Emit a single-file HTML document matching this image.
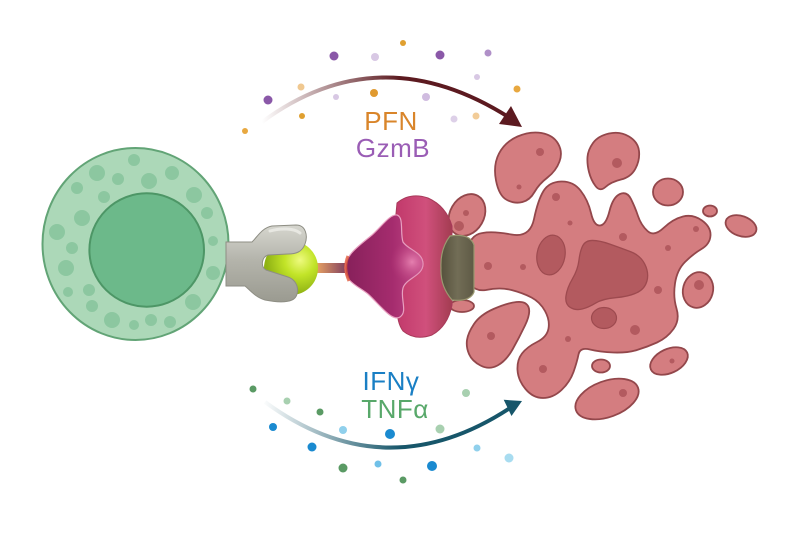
<!DOCTYPE html>
<html><head><meta charset="utf-8"><style>
html,body{margin:0;padding:0;background:#fff;}
svg{display:block;}
text{font-family:"Liberation Sans",sans-serif;}
</style></head><body>
<svg width="800" height="533" viewBox="0 0 800 533" xmlns="http://www.w3.org/2000/svg">
<defs>
<linearGradient id="ga1" x1="262" y1="0" x2="400" y2="0" gradientUnits="userSpaceOnUse">
<stop offset="0" stop-color="#5c1a20" stop-opacity="0"/><stop offset="1" stop-color="#5c1a20"/></linearGradient>
<linearGradient id="ga2" x1="262" y1="0" x2="400" y2="0" gradientUnits="userSpaceOnUse">
<stop offset="0" stop-color="#17566a" stop-opacity="0"/><stop offset="1" stop-color="#17566a"/></linearGradient>
<linearGradient id="grey" x1="0" y1="225" x2="0" y2="303" gradientUnits="userSpaceOnUse">
<stop offset="0" stop-color="#d6d6cf"/><stop offset="0.45" stop-color="#b4b4ab"/><stop offset="1" stop-color="#9a9a90"/></linearGradient>
<radialGradient id="ball" cx="300" cy="260" r="34" gradientUnits="userSpaceOnUse">
<stop offset="0" stop-color="#eefa80"/><stop offset="0.45" stop-color="#c2e428"/><stop offset="1" stop-color="#8fb214"/></radialGradient>
<linearGradient id="stick" x1="316" y1="0" x2="348" y2="0" gradientUnits="userSpaceOnUse">
<stop offset="0" stop-color="#e8a262"/><stop offset="1" stop-color="#7a3a60"/></linearGradient>
<linearGradient id="mag" x1="345" y1="0" x2="424" y2="0" gradientUnits="userSpaceOnUse">
<stop offset="0" stop-color="#86205a"/><stop offset="0.6" stop-color="#a52c6e"/><stop offset="1" stop-color="#c44c88"/></linearGradient>
<radialGradient id="maghl" cx="412" cy="262" r="22" gradientUnits="userSpaceOnUse">
<stop offset="0" stop-color="#f090bc" stop-opacity="0.8"/><stop offset="1" stop-color="#c04080" stop-opacity="0"/></radialGradient>
<linearGradient id="cup" x1="397" y1="0" x2="455" y2="0" gradientUnits="userSpaceOnUse">
<stop offset="0" stop-color="#c23a6c"/><stop offset="0.5" stop-color="#d0507c"/><stop offset="1" stop-color="#9e3a4c"/></linearGradient>
<linearGradient id="olive" x1="441" y1="0" x2="474" y2="0" gradientUnits="userSpaceOnUse">
<stop offset="0" stop-color="#55513c"/><stop offset="0.5" stop-color="#726d56"/><stop offset="1" stop-color="#5e5a45"/></linearGradient>
</defs>

<!-- cell -->
<ellipse cx="135.5" cy="244" rx="93" ry="96" fill="#acd8b8" stroke="#62a476" stroke-width="2"/>
<g fill="#8cc7a0">
<circle cx="134" cy="160" r="6"/><circle cx="97" cy="173" r="8"/><circle cx="118" cy="179" r="6"/>
<circle cx="149" cy="181" r="8"/><circle cx="172" cy="173" r="7"/><circle cx="77" cy="188" r="6"/>
<circle cx="104" cy="197" r="6"/><circle cx="194" cy="195" r="8"/><circle cx="82" cy="218" r="8"/>
<circle cx="207" cy="213" r="6"/><circle cx="57" cy="232" r="8"/><circle cx="213" cy="241" r="5"/>
<circle cx="72" cy="248" r="6"/><circle cx="66" cy="268" r="8"/><circle cx="213" cy="273" r="7"/>
<circle cx="68" cy="292" r="5"/><circle cx="89" cy="290" r="6"/><circle cx="92" cy="306" r="6"/>
<circle cx="193" cy="302" r="8"/><circle cx="112" cy="320" r="8"/><circle cx="134" cy="325" r="5"/>
<circle cx="151" cy="320" r="6"/><circle cx="170" cy="322" r="6"/>
</g>
<ellipse cx="146.7" cy="250" rx="57.3" ry="56.7" fill="#6cb98a" stroke="#4d9666" stroke-width="2"/>

<!-- ball + stick -->
<rect x="314" y="263" width="34" height="10" fill="url(#stick)"/>
<circle cx="291" cy="268" r="27" fill="url(#ball)"/>
<!-- grey receptor -->
<path d="M 226 242 L 252 242 C 258 236 262 228 272 226 L 296 225 C 306 225 308 236 305 244 C 302 252 296 254 288 254 L 268 255 C 262 257 260 266 266 270 L 288 277 C 300 281 300 297 292 300 C 285 303 275 302 265 300 C 255 297 250 290 245 286 L 226 286 Z" fill="url(#grey)" stroke="#8e8e84" stroke-width="1"/>
<path d="M 270 231 C 280 228 294 228 300 233" stroke="#eeeee8" stroke-width="3" fill="none" stroke-linecap="round" opacity="0.8"/>

<!-- arrows -->
<path d="M 262 122 Q 380 35 510 118" fill="none" stroke="url(#ga1)" stroke-width="4"/>
<polygon points="522,127 511,106 499,124" fill="#5c1a20"/>
<path d="M 265 402 Q 385 490 510 408" fill="none" stroke="url(#ga2)" stroke-width="4"/>
<polygon points="522,401 503.7,399.8 511.5,416" fill="#17566a"/>

<!-- dots top -->
<circle cx="403" cy="43" r="3" fill="#e0a030"/><circle cx="334" cy="56" r="4.5" fill="#8a58a8"/>
<circle cx="375" cy="57" r="4" fill="#d8c8e4"/><circle cx="440" cy="55" r="4.5" fill="#8a58a8"/>
<circle cx="488" cy="53" r="3.5" fill="#b090c8"/><circle cx="301" cy="87" r="3.5" fill="#f0c890"/>
<circle cx="268" cy="100" r="4.5" fill="#8a58a8"/><circle cx="336" cy="97" r="3" fill="#d8c8e4"/>
<circle cx="374" cy="93" r="4" fill="#e09a30"/><circle cx="426" cy="97" r="4" fill="#d0bce0"/>
<circle cx="477" cy="77" r="3" fill="#d8c8e4"/><circle cx="517" cy="89" r="3.5" fill="#e8a840"/>
<circle cx="302" cy="116" r="3" fill="#e0a030"/><circle cx="454" cy="119" r="3.5" fill="#ddd0e8"/>
<circle cx="476" cy="116" r="3.5" fill="#f2cc98"/><circle cx="245" cy="131" r="3" fill="#e8a840"/>

<!-- dots bottom -->
<circle cx="253" cy="389" r="3.5" fill="#5a9a64"/><circle cx="287" cy="401" r="3.5" fill="#a8d0b0"/>
<circle cx="320" cy="412" r="3.5" fill="#5a9a64"/><circle cx="273" cy="427" r="4" fill="#1a8ad0"/>
<circle cx="343" cy="430" r="4" fill="#90d0ec"/><circle cx="390" cy="434" r="5" fill="#1a8ad0"/>
<circle cx="440" cy="429" r="4.5" fill="#a8d0b0"/><circle cx="466" cy="393" r="4" fill="#a8d0b0"/>
<circle cx="312" cy="447" r="4.5" fill="#1a8ad0"/><circle cx="343" cy="468" r="4.5" fill="#5a9a64"/>
<circle cx="378" cy="464" r="3.5" fill="#70c0e8"/><circle cx="432" cy="466" r="5" fill="#1a8ad0"/>
<circle cx="403" cy="480" r="3.5" fill="#5a9a64"/><circle cx="477" cy="448" r="3.5" fill="#90d0ec"/>
<circle cx="509" cy="458" r="4.5" fill="#a8dcf0"/>

<!-- labels -->
<text x="391" y="130" font-size="26" fill="#d9852a" text-anchor="middle" letter-spacing="0.5">PFN</text>
<text x="393" y="157" font-size="26" fill="#9a5db5" text-anchor="middle" letter-spacing="0.5">GzmB</text>
<text x="391" y="390" font-size="26" fill="#1a7fc4" text-anchor="middle" letter-spacing="0.5">IFNγ</text>
<text x="395" y="418" font-size="26" fill="#58a86a" text-anchor="middle" letter-spacing="0.5">TNFα</text>

<!-- target cell blobs -->
<g fill="#d47d80" stroke="#93474b" stroke-width="1.8">
<path d="M 482.5 233 Q 493 231 511.5 234.5 Q 530 238 534 219 Q 538 200 543.5 191 Q 549 182 561 181.5 Q 573 181 580.5 190.5 Q 588 200 591 213 Q 594 226 600 225.5 Q 606 225 609.5 211 Q 613 197 620 194 Q 627 191 631 199 Q 635 207 638 216 Q 641 225 647.5 231 Q 654 237 663.5 228 Q 673 219 683 216.5 Q 693 214 702 220.5 Q 711 227 710.5 235.5 Q 710 244 701.5 249 Q 693 254 685 262 Q 677 270 675 283.5 Q 673 297 676.5 308.5 Q 680 320 673.5 329 Q 667 338 657 342.5 Q 647 347 637 350 Q 627 353 613.5 352.5 Q 600 352 590 349.5 Q 580 347 578.5 354.5 Q 577 362 573.5 372 Q 570 382 561.5 390 Q 553 398 543 398 Q 533 398 525.5 389 Q 518 380 517.5 370 Q 517 360 522 353.5 Q 527 347 537 342 Q 547 337 548.5 328.5 Q 550 320 545 311 Q 540 302 531.5 297.5 Q 523 293 511.5 290 Q 500 287 486 290 Q 466 293 466 264 Q 466 235 482.5 233 Z"/>
<path d="M 499 153.5 Q 505 142 517.5 136.5 Q 530 131 541.5 133 Q 553 135 558 143.5 Q 563 152 559.5 161.5 Q 556 171 547.5 177.5 Q 539 184 534.5 192 Q 530 200 522.5 202 Q 515 204 507 200 Q 499 196 496 180.5 Q 493 165 499 153.5 Z"/>
<path d="M 593 143 Q 598 136 609 133.5 Q 620 131 629 136.5 Q 638 142 639 151 Q 640 160 635.5 168.5 Q 631 177 621 179.5 Q 611 182 605.5 187 Q 600 192 595.5 186 Q 591 180 589 172 Q 587 164 587.5 157 Q 588 150 593 143 Z"/>
<ellipse cx="668" cy="192" rx="15" ry="13.5"/>
<ellipse cx="710" cy="211" rx="7" ry="5.5"/>
<ellipse cx="741" cy="226" rx="16" ry="10" transform="rotate(20 741 226)"/>
<ellipse cx="467" cy="215" rx="17" ry="22" transform="rotate(30 467 215)"/>
<ellipse cx="462" cy="306" rx="12" ry="6"/>
<path d="M 474 324 Q 480 315 493.5 309 Q 507 303 516.5 302 Q 526 301 528.5 307 Q 531 313 525 325.5 Q 519 338 512.5 349.5 Q 506 361 497.5 365.5 Q 489 370 480.5 365.5 Q 472 361 469 354 Q 466 347 467 340 Q 468 333 474 324 Z"/>
<ellipse cx="601" cy="366" rx="9" ry="6.5"/>
<ellipse cx="669" cy="361" rx="20" ry="12" transform="rotate(-25 669 361)"/>
<ellipse cx="698" cy="290" rx="15" ry="18" transform="rotate(15 698 290)"/>
<ellipse cx="607" cy="399" rx="33" ry="18" transform="rotate(-20 607 399)"/>
</g>
<g fill="#b35a5f" stroke="#9d4a4f" stroke-width="1.2">
<path transform="translate(607 275) scale(1.08) translate(-607 -275)" d="M 593.5 243 Q 600 243 610 246.5 Q 620 250 629 253.5 Q 638 257 642 265 Q 646 273 644 280.5 Q 642 288 634.5 291.5 Q 627 295 615 296 Q 603 297 596.5 301 Q 590 305 584 306.5 Q 578 308 573 305 Q 568 302 569 294.5 Q 570 287 575 278.5 Q 580 270 581 261.5 Q 582 253 584.5 248 Q 587 243 593.5 243 Z"/>
<ellipse cx="551" cy="255" rx="14" ry="20" transform="rotate(10 551 255)"/>
<ellipse cx="604" cy="318" rx="12.5" ry="10.5"/>
</g>
<g fill="#b35a5f">
<circle cx="540" cy="152" r="4"/><circle cx="519" cy="187" r="2.5"/><circle cx="617" cy="163" r="5"/>
<circle cx="466" cy="213" r="3"/><circle cx="459" cy="226" r="5"/><circle cx="556" cy="197" r="4"/>
<circle cx="570" cy="223" r="2.5"/><circle cx="623" cy="237" r="4"/><circle cx="696" cy="229" r="3"/>
<circle cx="668" cy="248" r="3"/><circle cx="488" cy="266" r="4"/><circle cx="523" cy="267" r="3"/>
<circle cx="658" cy="290" r="4"/><circle cx="699" cy="285" r="5"/><circle cx="635" cy="330" r="5"/>
<circle cx="568" cy="339" r="3"/><circle cx="491" cy="336" r="4"/><circle cx="543" cy="369" r="4"/>
<circle cx="672" cy="361" r="2.5"/><circle cx="623" cy="393" r="4"/>
</g>

<!-- MHC complex -->
<path d="M 397 203 Q 410 192 428 198 Q 446 206 452 226 L 452 305 Q 448 326 432 335 Q 415 341 403 331 Q 396 322 397 300 Q 392 250 397 203 Z" fill="url(#cup)" stroke="#a83a5a" stroke-width="1"/>
<path d="M 450 236 Q 470 233 474 245 L 474 292 Q 470 302 452 300 Q 440 286 441 268 Q 440 249 450 236 Z" fill="url(#olive)" stroke="#9a9870" stroke-width="1.2"/>
<path d="M 345 268 C 345 255 360 245 372 235 C 382 226 390 214 397 215 C 404 217 400 233 403 242 C 408 250 423 252 423 264 C 423 276 406 278 403 288 C 400 298 408 312 400 317 C 392 322 380 305 368 294 C 358 286 345 282 345 268 Z" fill="url(#mag)" stroke="#e8a0c0" stroke-width="1.2"/>
<path d="M 345 268 C 345 255 360 245 372 235 C 382 226 390 214 397 215 C 404 217 400 233 403 242 C 408 250 423 252 423 264 C 423 276 406 278 403 288 C 400 298 408 312 400 317 C 392 322 380 305 368 294 C 358 286 345 282 345 268 Z" fill="url(#maghl)"/>
<path d="M 348 256 Q 343 268 349 281" stroke="#e05a3a" stroke-width="3" fill="none" opacity="0.8"/>
</svg>
</body></html>
